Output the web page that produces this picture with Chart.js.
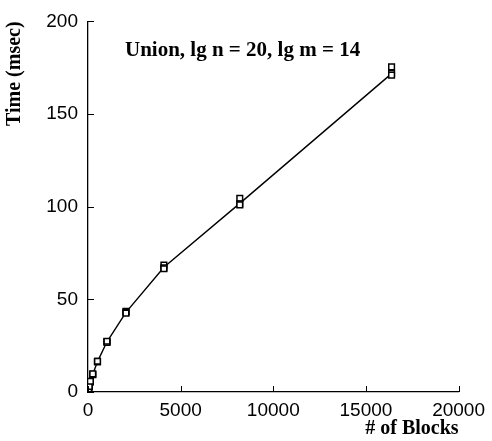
<!DOCTYPE html>
<html>
<head>
<meta charset="utf-8">
<script src="https://cdn.jsdelivr.net/npm/chart.js@4.4.0/dist/chart.umd.min.js"></script>
<style>
    body { margin: 0; background: #fff; }
    #wrap { width: 492px; height: 441px; }
</style>
</head>
<body>
<div id="wrap"><canvas id="unionChart" width="492" height="441"></canvas></div>
<script>
// number of blocks (powers of two) and timings
const blocks = [16, 32, 64, 128, 256, 512, 1024, 2048, 4096, 8192, 16384];
const trialA = [0.8, 1.5, 2.9, 5.6, 9.6, 16.5, 27.2, 43.5, 68.5, 104.5, 175.5];
const trialB = [0.7, 1.4, 2.8, 5.4, 9.3, 16.2, 26.8, 43.0, 67.0, 101.5, 172.0];
const trialC = [0.9, 1.6, 3.0, 5.8, 9.8, 16.6, 27.4, 42.6, 66.5, 101.0, 171.0];
const meanTime = [0.8, 1.5, 2.9, 5.6, 9.5, 16.4, 27.1, 43.0, 67.3, 101.8, 171.8];

const xTicks = [0, 5000, 10000, 15000, 20000];
const yTicks = [0, 50, 100, 150, 200];

const titleText = 'Union, lg n = 20, lg m = 14';

function pairs(xs, ys) {
    return xs.map((x, i) => ({ x: x, y: ys[i] }));
}

const trialPoints = [].concat(pairs(blocks, trialA), pairs(blocks, trialB), pairs(blocks, trialC));

// ticks drawn inward, like the original
const innerTicks = {
    id: 'innerTicks',
    afterDatasetsDraw(chart) {
        const ctx = chart.ctx;
        const area = chart.chartArea;
        const xs = chart.scales.x, ys = chart.scales.y;
        ctx.save();
        ctx.strokeStyle = '#000';
        ctx.lineWidth = 1;
        ctx.beginPath();
        xs.ticks.forEach(t => {
            const px = Math.round(xs.getPixelForValue(t.value)) + 0.5;
            ctx.moveTo(px, area.bottom);
            ctx.lineTo(px, area.bottom - 6);
        });
        ys.ticks.forEach(t => {
            const py = Math.round(ys.getPixelForValue(t.value)) + 0.5;
            ctx.moveTo(area.left, py);
            ctx.lineTo(area.left + 6, py);
        });
        ctx.stroke();
        ctx.restore();
    }
};

// the caption sits inside the plot area
const innerTitle = {
    id: 'innerTitle',
    afterDraw(chart) {
        const ctx = chart.ctx;
        const area = chart.chartArea;
        ctx.save();
        ctx.fillStyle = '#000';
        ctx.font = 'bold 21px "Liberation Serif", "Times New Roman", serif';
        ctx.textBaseline = 'middle';
        ctx.textAlign = 'left';
        ctx.fillText(titleText, area.left + 37, area.top + 29);
        ctx.restore();
    }
};

const tickFont = { family: '"Liberation Sans", Arial, Helvetica, sans-serif', size: 19 };
const labelFont = { family: '"Liberation Serif", "Times New Roman", serif', size: 20, weight: 'bold' };

new Chart(document.getElementById('unionChart').getContext('2d'), {
    type: 'line',
    data: {
        datasets: [
            {
                type: 'scatter',
                label: 'trials',
                data: trialPoints,
                pointStyle: 'rect',
                pointRadius: 4,
                pointBorderWidth: 1.5,
                pointBorderColor: '#000',
                pointBackgroundColor: '#fff',
                showLine: false,
                order: 0
            },
            {
                label: 'mean',
                data: pairs(blocks, meanTime),
                borderColor: '#000',
                borderWidth: 1.4,
                pointRadius: 0,
                tension: 0,
                fill: false,
                order: 1
            }
        ]
    },
    options: {
        responsive: false,
        animation: false,
        layout: { padding: { left: 0, right: 30, top: 18, bottom: 0 } },
        plugins: {
            legend: { display: false },
            tooltip: { enabled: false }
        },
        scales: {
            x: {
                type: 'linear',
                min: 0,
                max: 20000,
                afterBuildTicks: s => { s.ticks = xTicks.map(v => ({ value: v })); },
                afterFit: s => { s.height = 49; },
                grid: { display: true, drawOnChartArea: false, drawTicks: false },
                border: { display: true, color: '#000', width: 1.3 },
                ticks: { color: '#000', font: tickFont, padding: 7, maxRotation: 0, callback: v => String(v) },
                title: { display: true, text: '# of Blocks', align: 'end', color: '#000', font: labelFont, padding: 0 }
            },
            y: {
                type: 'linear',
                min: 0,
                max: 200,
                afterBuildTicks: s => { s.ticks = yTicks.map(v => ({ value: v })); },
                afterFit: s => { s.width = 88; },
                grid: { display: true, drawOnChartArea: false, drawTicks: false },
                border: { display: true, color: '#000', width: 1.3 },
                ticks: { color: '#000', font: tickFont, padding: 10, callback: v => String(v) },
                title: { display: true, text: 'Time (msec)', align: 'end', color: '#000', font: labelFont, padding: 3 }
            }
        }
    },
    plugins: [innerTicks, innerTitle]
});
</script>
</body>
</html>
